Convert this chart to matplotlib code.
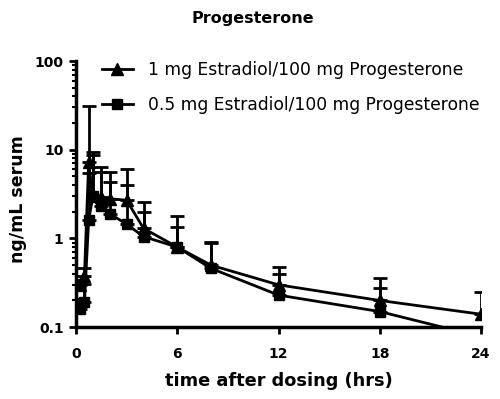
import numpy as np
import matplotlib
matplotlib.use('Agg')
import matplotlib.pyplot as plt
from matplotlib.lines import Line2D
from matplotlib.ticker import FixedLocator, FixedFormatter, LogLocator, NullFormatter

# time points (hrs)
times = [0.25, 0.5, 0.75, 1, 1.5, 2, 3, 4, 6, 8, 12, 18, 24]

# 1 mg Estradiol / 100 mg Progesterone
tri_mean = [0.30, 0.38, 7.2, 3.0, 2.9, 2.8, 2.7, 1.3, 0.80, 0.50, 0.30, 0.20, 0.14]
tri_top = [0.34, 0.46, 31.0, 9.5, 6.4, 5.6, 6.0, 2.6, 1.80, 0.92, 0.48, 0.36, 0.25]

# 0.5 mg Estradiol / 100 mg Progesterone
sq_mean = [0.16, 0.19, 1.6, 3.0, 2.3, 1.9, 1.45, 1.05, 0.80, 0.46, 0.23, 0.15, 0.078]
sq_top = [0.21, 0.31, 5.5, 8.7, 5.6, 4.3, 4.0, 2.0, 1.35, 0.90, 0.40, 0.28, 0.09]

labels = ['1 mg Estradiol/100 mg Progesterone', '0.5 mg Estradiol/100 mg Progesterone']
xticks = [0, 6, 12, 18, 24]
yticks = [0.1, 1, 10, 100]
yticklabels = ['0.1', '1', '10', '100']

plt.rcParams['font.family'] = ['DejaVu Sans']

fig = plt.figure(figsize=(5, 3.99), dpi=100)
ax = fig.add_axes([0.152, 0.18, 0.81, 0.667])

def draw_series(mean, top, marker, ms):
    mean = np.array(mean)
    upper = np.array(top) - mean
    err = [np.zeros_like(mean), upper]
    ax.errorbar(times, mean, yerr=err, color='black', marker=marker, markersize=ms,
                linewidth=2, elinewidth=2, capsize=5, capthick=2)

draw_series(tri_mean, tri_top, '^', 8)
draw_series(sq_mean, sq_top, 's', 7)

ax.set_yscale('log')
ax.set_xlim(0, 24)
ax.set_ylim(0.1, 100)

ax.xaxis.set_major_locator(FixedLocator(xticks))
ax.yaxis.set_major_locator(FixedLocator(yticks))
ax.yaxis.set_major_formatter(FixedFormatter(yticklabels))
ax.yaxis.set_minor_locator(LogLocator(base=10, subs=np.arange(2, 10)))
ax.yaxis.set_minor_formatter(NullFormatter())

for s in ['top', 'right']:
    ax.spines[s].set_visible(False)
for s in ['left', 'bottom']:
    ax.spines[s].set_linewidth(2.5)

ax.tick_params(axis='both', which='major', width=2, length=5, labelsize=10)
ax.tick_params(axis='x', pad=9)
ax.tick_params(axis='y', pad=4)
ax.tick_params(axis='y', which='minor', width=1.5, length=3)
for lbl in ax.get_xticklabels() + ax.get_yticklabels():
    lbl.set_fontweight('bold')

fig.text(0.505, 1 - 18 / 399, 'Progesterone', fontsize=11.5, fontweight='bold',
         ha='center', va='center')
ax.set_xlabel('time after dosing (hrs)', fontsize=12.8, fontweight='bold', labelpad=8)
ax.set_ylabel('ng/mL serum', fontsize=12.5, fontweight='bold')
ax.yaxis.set_label_coords(18 / 500, 0.5, transform=fig.transFigure)
ax.yaxis.label.set_va('center')

handles = [Line2D([], [], color='black', marker='^', markersize=8, linewidth=2),
           Line2D([], [], color='black', marker='s', markersize=7, linewidth=2)]
ax.legend(handles, labels, loc='upper left', bbox_to_anchor=(102 / 500, 0.848),
          bbox_transform=fig.transFigure, frameon=False, fontsize=12.3,
          handlelength=1.8, handletextpad=0.9, labelspacing=1.0,
          borderpad=0, borderaxespad=0)

plt.savefig('out.png', dpi=100)
